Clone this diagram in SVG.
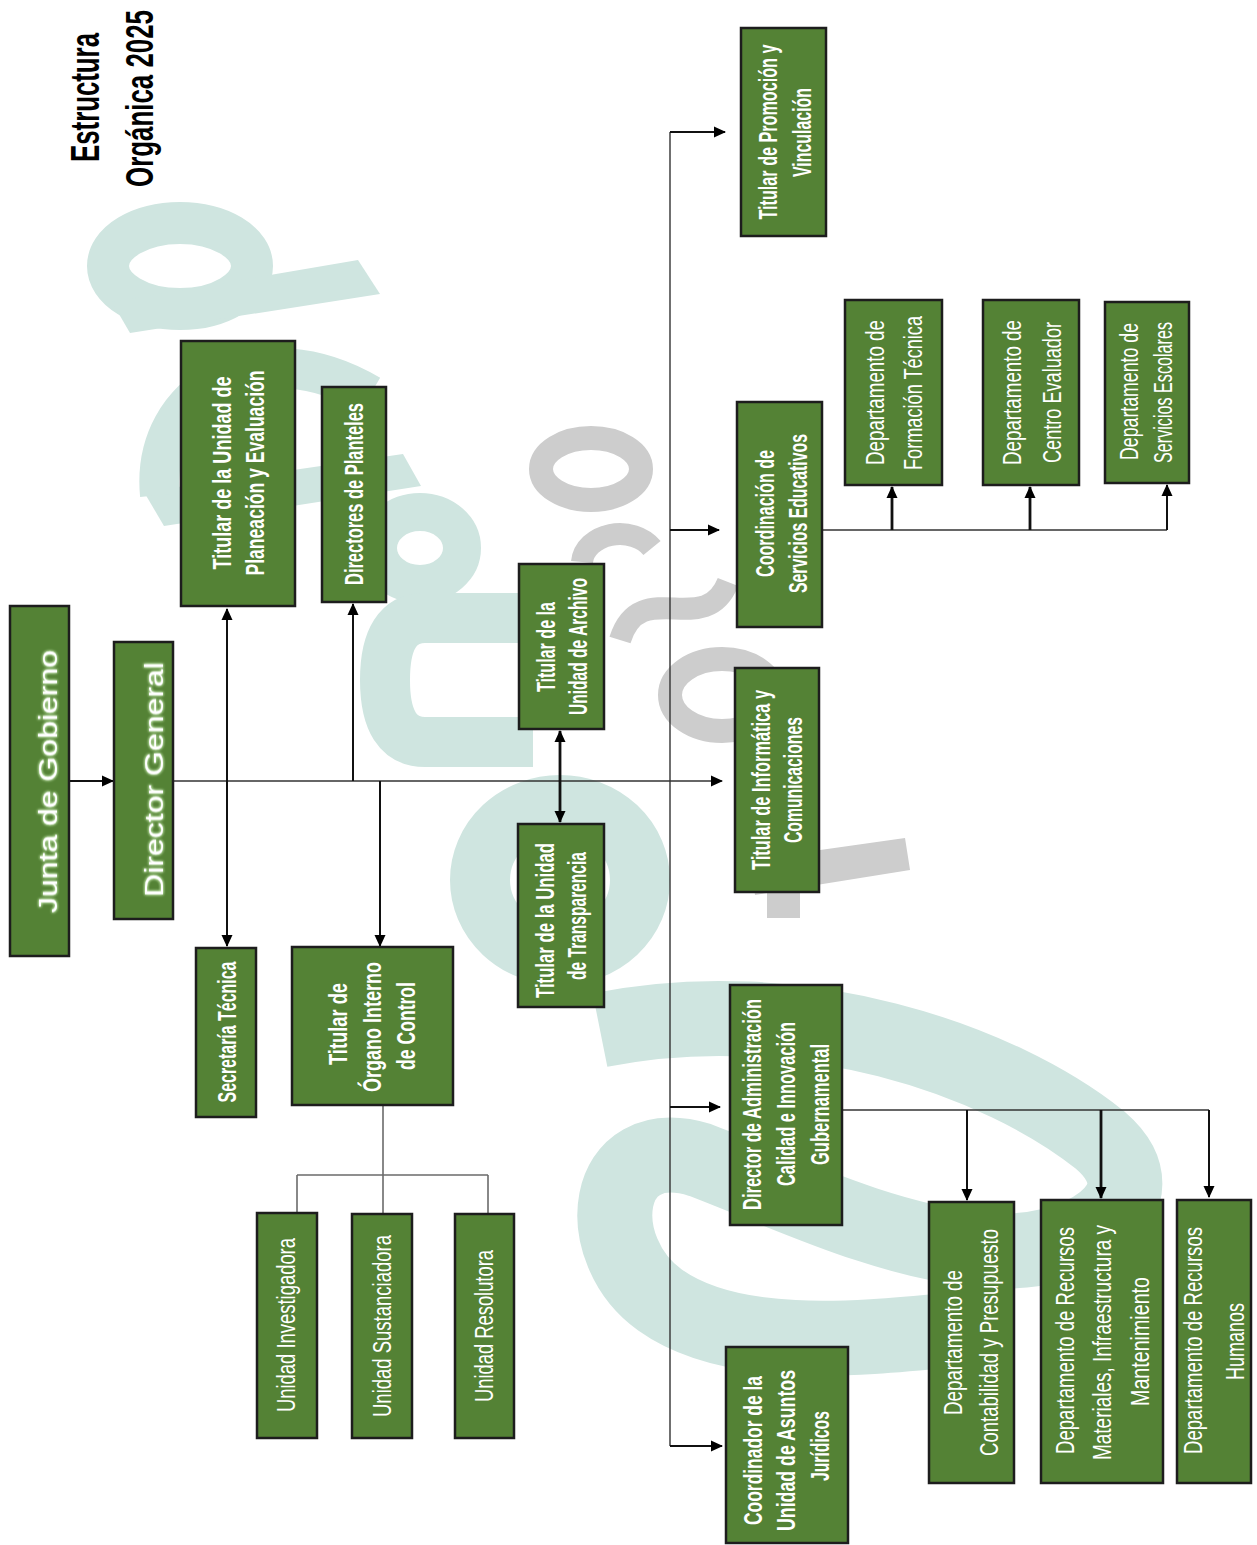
<svg xmlns="http://www.w3.org/2000/svg" width="1257" height="1545" viewBox="0 0 1257 1545">
<defs>
<style>
.bx{fill:#548235;stroke:#1d1d1d;stroke-width:2.5}
.t{font-family:"Liberation Sans Narrow","Liberation Sans",Arial,sans-serif;font-size:25px;fill:#fff;text-anchor:middle}
.b{font-weight:bold}
.ttl{font-family:"Liberation Sans Narrow","Liberation Sans",Arial,sans-serif;font-weight:bold;fill:#000;text-anchor:middle}
.ln{fill:none;stroke:#111;stroke-width:2}
.lk{fill:none;stroke:#111;stroke-width:2.8}
.th{fill:none;stroke:#333;stroke-width:1.4}
.gr{fill:none;stroke:#6b6b6b;stroke-width:1.6}
.wt{fill:#cfe5e0}
.wts{fill:none;stroke:#cfe5e0}
.wg{fill:#cdcdcd}
.wgs{fill:none;stroke:#cdcdcd}
</style>
<marker id="ah" viewBox="0 0 12 12" refX="11" refY="6" markerWidth="12" markerHeight="12" markerUnits="userSpaceOnUse" orient="auto-start-reverse"><path d="M0,0.5 L12,6 L0,11.5 Z" fill="#000"/></marker>
<filter id="glow" x="-20%" y="-20%" width="140%" height="140%">
<feGaussianBlur in="SourceAlpha" stdDeviation="1.4" result="bl"/>
<feFlood flood-color="#d4f5bf" flood-opacity="0.9"/>
<feComposite in2="bl" operator="in" result="g"/>
<feMerge><feMergeNode in="g"/><feMergeNode in="g"/><feMergeNode in="SourceGraphic"/></feMerge>
</filter>
</defs>
<rect width="1257" height="1545" fill="#fff"/>

<g id="watermark">
<ellipse class="wts" cx="180" cy="266" rx="72" ry="43" stroke-width="42"/>
<polygon class="wt" points="112,302 358,260 380,294 130,333"/>
<polygon class="wt" points="144,492 403,454 421,486 164,526"/>
<path class="wts" stroke-width="40" d="M160,495 C150,390 260,330 370,395"/>
<ellipse class="wts" cx="420" cy="548" rx="42" ry="36" stroke-width="38"/>
<path class="wts" stroke-width="50" d="M533,618 L425,618 Q385,618 385,680 Q385,742 425,742 L533,742"/>
<ellipse class="wts" cx="560" cy="880" rx="80" ry="75" stroke-width="60"/>
<path class="wts" stroke-width="75" d="M600,1030 C800,990 1000,1060 1100,1140 C1170,1200 1080,1260 980,1250 C880,1240 780,1190 700,1160 C600,1130 590,1250 660,1300 C730,1350 850,1340 950,1330"/>
<ellipse class="wgs" cx="591" cy="469" rx="50" ry="31" stroke-width="24"/>
<path class="wgs" stroke-width="22" d="M582,562 A38 30 0 0 1 652,548"/>
<path class="wgs" stroke-width="22" d="M620,640 C640,575 705,640 728,582"/>
<ellipse class="wgs" cx="722" cy="695" rx="52" ry="36" stroke-width="24"/>
<polygon class="wg" points="750,860 905,838 910,870 755,895"/>
<polygon class="wg" points="767,880 800,880 800,918 767,918"/>
</g>

<g id="title">
<text class="ttl" font-size="26" transform="translate(99,97.5) rotate(-90) scale(1,1.54)" textLength="129" lengthAdjust="spacingAndGlyphs">Estructura</text>
<text class="ttl" font-size="26" transform="translate(153,98.5) rotate(-90) scale(1,1.5)" textLength="177" lengthAdjust="spacingAndGlyphs">Orgánica 2025</text>
</g>

<g id="connectors">
<path class="ln" d="M69,781 H113" marker-end="url(#ah)"/>
<path class="th" d="M173,781 H722" marker-end="url(#ah)"/>
<path class="ln" d="M227,609 V946" marker-start="url(#ah)" marker-end="url(#ah)"/>
<path class="ln" d="M353,781 V604" marker-end="url(#ah)"/>
<path class="ln" d="M380,781 V946" marker-end="url(#ah)"/>
<path class="lk" d="M560,731 V822" marker-start="url(#ah)" marker-end="url(#ah)"/>
<path class="th" d="M670,132 V1446"/>
<path class="ln" d="M670,132 H725" marker-end="url(#ah)"/>
<path class="ln" d="M670,530 H719" marker-end="url(#ah)"/>
<path class="ln" d="M670,1107 H720" marker-end="url(#ah)"/>
<path class="ln" d="M670,1446 H722" marker-end="url(#ah)"/>
<path class="th" d="M822,530 H1167"/>
<path class="lk" d="M892,530 V487" marker-end="url(#ah)"/>
<path class="lk" d="M1030,530 V487" marker-end="url(#ah)"/>
<path class="ln" d="M1167,530 V485" marker-end="url(#ah)"/>
<path class="th" d="M843,1110 H1209"/>
<path class="ln" d="M967,1110 V1200" marker-end="url(#ah)"/>
<path class="lk" d="M1101,1110 V1198" marker-end="url(#ah)"/>
<path class="ln" d="M1209,1110 V1197" marker-end="url(#ah)"/>
<path class="gr" d="M383,1105 V1213 M297,1175 H488 M297,1175 V1213 M488,1175 V1213"/>
</g>

<g id="junta"><rect class="bx" x="10" y="606" width="59" height="350"/>
<text class="t" font-size="40" filter="url(#glow)" transform="translate(57,781.5) rotate(-90)" textLength="263" lengthAdjust="spacingAndGlyphs">Junta de Gobierno</text></g>

<g id="director"><rect class="bx" x="114" y="642" width="59" height="277"/>
<text class="t" font-size="48" filter="url(#glow)" transform="translate(163,779.5) rotate(-90)" textLength="235" lengthAdjust="spacingAndGlyphs">Director General</text></g>

<g id="planeacion"><rect class="bx" x="181" y="341" width="114" height="265"/>
<text class="t b" transform="translate(231,473) rotate(-90)" textLength="193" lengthAdjust="spacingAndGlyphs">Titular de la Unidad de</text>
<text class="t b" transform="translate(264,473) rotate(-90)" textLength="205" lengthAdjust="spacingAndGlyphs">Planeación y Evaluación</text></g>

<g id="directores"><rect class="bx" x="322" y="387" width="64" height="215"/>
<text class="t b" transform="translate(363,494) rotate(-90)" textLength="182" lengthAdjust="spacingAndGlyphs">Directores de Planteles</text></g>

<g id="secretaria"><rect class="bx" x="196" y="948" width="60" height="169"/>
<text class="t b" transform="translate(236,1032) rotate(-90)" textLength="141" lengthAdjust="spacingAndGlyphs">Secretaría Técnica</text></g>

<g id="oic"><rect class="bx" x="292" y="947" width="161" height="158"/>
<text class="t b" transform="translate(347,1024) rotate(-90)" textLength="82" lengthAdjust="spacingAndGlyphs">Titular de</text>
<text class="t b" transform="translate(381,1027) rotate(-90)" textLength="130" lengthAdjust="spacingAndGlyphs">Órgano Interno</text>
<text class="t b" transform="translate(415,1026) rotate(-90)" textLength="88" lengthAdjust="spacingAndGlyphs">de Control</text></g>

<g id="investigadora"><rect class="bx" x="257" y="1213" width="60" height="225"/>
<text class="t" transform="translate(295,1325) rotate(-90)" textLength="174" lengthAdjust="spacingAndGlyphs">Unidad Investigadora</text></g>

<g id="sustanciadora"><rect class="bx" x="352" y="1214" width="60" height="224"/>
<text class="t" transform="translate(391,1326) rotate(-90)" textLength="182" lengthAdjust="spacingAndGlyphs">Unidad Sustanciadora</text></g>

<g id="resolutora"><rect class="bx" x="455" y="1214" width="59" height="224"/>
<text class="t" transform="translate(493,1326) rotate(-90)" textLength="152" lengthAdjust="spacingAndGlyphs">Unidad Resolutora</text></g>

<g id="archivo"><rect class="bx" x="519" y="564" width="85" height="165"/>
<text class="t b" transform="translate(555,647) rotate(-90)" textLength="90" lengthAdjust="spacingAndGlyphs">Titular de la</text>
<text class="t b" transform="translate(587,646.5) rotate(-90)" textLength="137" lengthAdjust="spacingAndGlyphs">Unidad de Archivo</text></g>

<g id="transparencia"><rect class="bx" x="518" y="824" width="86" height="183"/>
<text class="t b" transform="translate(554,920.5) rotate(-90)" textLength="155" lengthAdjust="spacingAndGlyphs">Titular de la Unidad</text>
<text class="t b" transform="translate(586,916) rotate(-90)" textLength="128" lengthAdjust="spacingAndGlyphs">de Transparencia</text></g>

<g id="informatica"><rect class="bx" x="735" y="668" width="84" height="224"/>
<text class="t b" transform="translate(770,780) rotate(-90)" textLength="180" lengthAdjust="spacingAndGlyphs">Titular de Informática y</text>
<text class="t b" transform="translate(802,780) rotate(-90)" textLength="126" lengthAdjust="spacingAndGlyphs">Comunicaciones</text></g>

<g id="promocion"><rect class="bx" x="741" y="28" width="85" height="208"/>
<text class="t b" font-size="24" transform="translate(777,132) rotate(-90)" textLength="175" lengthAdjust="spacingAndGlyphs">Titular de Promoción y</text>
<text class="t b" transform="translate(811,132.5) rotate(-90)" textLength="89" lengthAdjust="spacingAndGlyphs">Vinculación</text></g>

<g id="coordinacion"><rect class="bx" x="737" y="402" width="85" height="225"/>
<text class="t b" transform="translate(774,513.5) rotate(-90)" textLength="127" lengthAdjust="spacingAndGlyphs">Coordinación de</text>
<text class="t b" transform="translate(807,513.5) rotate(-90)" textLength="159" lengthAdjust="spacingAndGlyphs">Servicios Educativos</text></g>

<g id="formacion"><rect class="bx" x="845" y="300" width="97" height="185"/>
<text class="t" transform="translate(884,392.5) rotate(-90)" textLength="145" lengthAdjust="spacingAndGlyphs">Departamento de</text>
<text class="t" transform="translate(922,393) rotate(-90)" textLength="154" lengthAdjust="spacingAndGlyphs">Formación Técnica</text></g>

<g id="centro"><rect class="bx" x="983" y="300" width="96" height="185"/>
<text class="t" transform="translate(1021,392.5) rotate(-90)" textLength="145" lengthAdjust="spacingAndGlyphs">Departamento de</text>
<text class="t" transform="translate(1061,392.5) rotate(-90)" textLength="141" lengthAdjust="spacingAndGlyphs">Centro Evaluador</text></g>

<g id="escolares"><rect class="bx" x="1105" y="302" width="84" height="181"/>
<text class="t" transform="translate(1138,391.5) rotate(-90)" textLength="137" lengthAdjust="spacingAndGlyphs">Departamento de</text>
<text class="t" transform="translate(1172,392.5) rotate(-90)" textLength="141" lengthAdjust="spacingAndGlyphs">Servicios Escolares</text></g>

<g id="administracion"><rect class="bx" x="730" y="985" width="112" height="240"/>
<text class="t b" transform="translate(761,1104.5) rotate(-90)" textLength="211" lengthAdjust="spacingAndGlyphs">Director de Administración</text>
<text class="t b" transform="translate(795,1104) rotate(-90)" textLength="164" lengthAdjust="spacingAndGlyphs">Calidad e Innovación</text>
<text class="t b" transform="translate(829,1104.5) rotate(-90)" textLength="121" lengthAdjust="spacingAndGlyphs">Gubernamental</text></g>

<g id="juridicos"><rect class="bx" x="726" y="1347" width="122" height="196"/>
<text class="t b" transform="translate(762,1450.5) rotate(-90)" textLength="149" lengthAdjust="spacingAndGlyphs">Coordinador de la</text>
<text class="t b" transform="translate(795,1450.5) rotate(-90)" textLength="161" lengthAdjust="spacingAndGlyphs">Unidad de Asuntos</text>
<text class="t b" transform="translate(829,1446) rotate(-90)" textLength="70" lengthAdjust="spacingAndGlyphs">Jurídicos</text></g>

<g id="contabilidad"><rect class="bx" x="929" y="1202" width="85" height="281"/>
<text class="t" transform="translate(962,1342.5) rotate(-90)" textLength="145" lengthAdjust="spacingAndGlyphs">Departamento de</text>
<text class="t" transform="translate(998,1342.5) rotate(-90)" textLength="227" lengthAdjust="spacingAndGlyphs">Contabilidad y Presupuesto</text></g>

<g id="materiales"><rect class="bx" x="1041" y="1200" width="122" height="283"/>
<text class="t" transform="translate(1074,1340.5) rotate(-90)" textLength="227" lengthAdjust="spacingAndGlyphs">Departamento de Recursos</text>
<text class="t" transform="translate(1111,1342.5) rotate(-90)" textLength="235" lengthAdjust="spacingAndGlyphs">Materiales, Infraestructura y</text>
<text class="t" transform="translate(1149,1341.5) rotate(-90)" textLength="129" lengthAdjust="spacingAndGlyphs">Mantenimiento</text></g>

<g id="humanos"><rect class="bx" x="1177" y="1200" width="74" height="283"/>
<text class="t" transform="translate(1202,1340.5) rotate(-90)" textLength="227" lengthAdjust="spacingAndGlyphs">Departamento de Recursos</text>
<text class="t" transform="translate(1244,1341.5) rotate(-90)" textLength="77" lengthAdjust="spacingAndGlyphs">Humanos</text></g>
</svg>
